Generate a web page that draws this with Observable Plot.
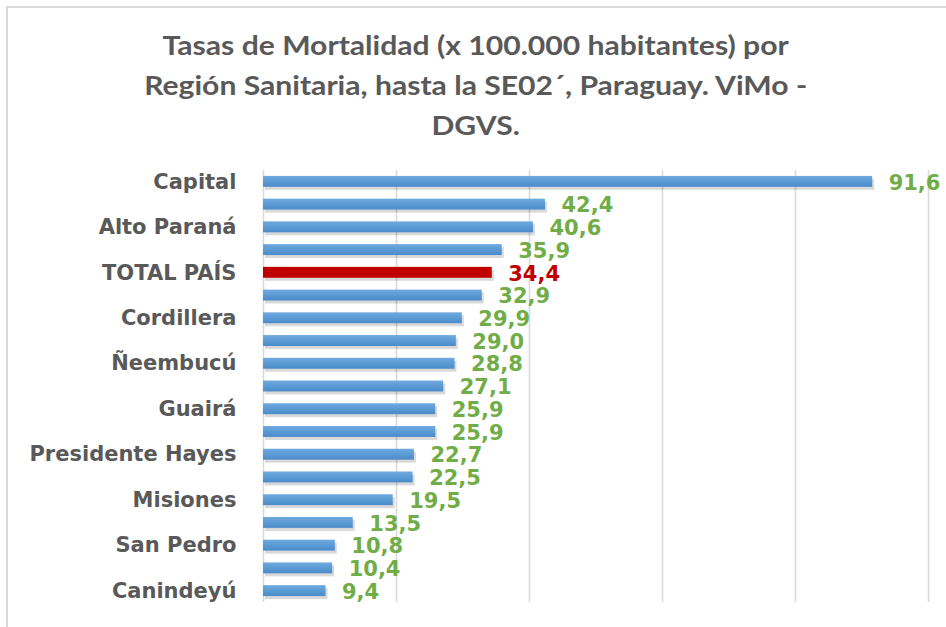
<!DOCTYPE html>
<html>
<head>
<meta charset="utf-8">
<script src="https://cdn.jsdelivr.net/npm/d3@7"></script>
<script src="https://cdn.jsdelivr.net/npm/@observablehq/plot@0.6"></script>
<style>
  html, body { margin: 0; padding: 0; background: #fff; overflow: hidden; }
  #wrap { position: relative; width: 946px; height: 627px; overflow: hidden; background: #fff; }
  #frame { position: absolute; left: 6px; top: 6px; width: 960px; height: 640px; border: 2px solid #d9d9d9; box-sizing: border-box; }
  #title { position: absolute; left: 3px; top: 25px; width: 946px; text-align: center; font-family: Lato, "Open Sans", sans-serif; font-weight: bold; font-size: 27px; line-height: 40px; color: #595959; transform: scaleX(1.115); transform-origin: 476px 0; }
  #chart { position: absolute; left: 0; top: 160px; }
</style>
</head>
<body>
<div id="wrap">
  <div id="frame"></div>
  <div id="title">Tasas de Mortalidad (x 100.000 habitantes) por<br>Región Sanitaria, hasta la SE02´, Paraguay. ViMo -<br>DGVS.</div>
  <div id="chart"></div>
</div>
<script>
const regions = ["Capital","Central","Alto Paraná","Amambay","TOTAL PAÍS","Itapúa","Cordillera","Paraguarí","Ñeembucú","Caaguazú","Guairá","Concepción","Presidente Hayes","Boquerón","Misiones","Caazapá","San Pedro","Alto Paraguay","Canindeyú"];
const rates = [91.6,42.4,40.6,35.9,34.4,32.9,29.9,29.0,28.8,27.1,25.9,25.9,22.7,22.5,19.5,13.5,10.8,10.4,9.4];
const shownLabels = ["Capital","Alto Paraná","TOTAL PAÍS","Cordillera","Ñeembucú","Guairá","Presidente Hayes","Misiones","San Pedro","Canindeyú"];
const gridValues = [0,20,40,60,80,100];
const totalName = "TOTAL PAÍS";

const data = regions.map((r, i) => ({region: r, value: rates[i]}));
const blue = data.filter(d => d.region !== totalName);
const red = data.filter(d => d.region === totalName);
const fmt = v => v.toFixed(1).replace(".", ",");

const chart = Plot.plot({
  width: 946,
  height: 467,
  marginLeft: 263,
  marginRight: 18,
  marginTop: 10,
  marginBottom: 25,
  style: {fontFamily: "'DejaVu Sans', sans-serif", fontSize: "21px", fontWeight: "bold", color: "#595959", background: "transparent"},
  x: {domain: [0, 100], axis: null},
  y: {domain: regions, paddingInner: 0.52, paddingOuter: 0.26, round: false, label: null, axis: null},
  marks: [
    Plot.gridX(gridValues, {stroke: "#d9d9d9", strokeWidth: 1.6, strokeOpacity: 1}),
    Plot.barX(data, {x: "value", y: "region", fill: "#000", fillOpacity: 0.15, dx: 2, dy: 3}),
    Plot.barX(blue, {x: "value", y: "region", fill: "url(#blueGrad)"}),
    Plot.barX(red, {x: "value", y: "region", fill: "#C00000"}),
    Plot.text(blue, {x: "value", y: "region", text: d => fmt(d.value), textAnchor: "start", dx: 16, dy: 1, fill: "#70AD47", fontSize: 21, fontWeight: "bold"}),
    Plot.text(red, {x: "value", y: "region", text: d => fmt(d.value), textAnchor: "start", dx: 16, dy: 1, fill: "#C00000", fontSize: 21, fontWeight: "bold"}),
    Plot.axisY({ticks: shownLabels, tickSize: 0, tickPadding: 27, fontSize: 21, fontWeight: "bold", label: null})
  ]
});

const svg = d3.select(chart);
const defs = svg.insert("defs", ":first-child");
const g = defs.append("linearGradient").attr("id", "blueGrad").attr("x1", 0).attr("y1", 0).attr("x2", 0).attr("y2", 1);
g.append("stop").attr("offset", "0%").attr("stop-color", "#6fa9df");
g.append("stop").attr("offset", "50%").attr("stop-color", "#5B9BD5");
g.append("stop").attr("offset", "100%").attr("stop-color", "#4a8bc9");

document.getElementById("chart").appendChild(chart);
</script>
</body>
</html>
